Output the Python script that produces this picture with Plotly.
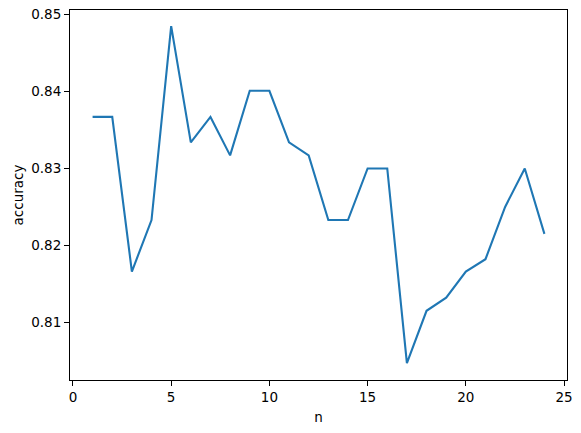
import plotly.graph_objects as go

n = list(range(1, 25))
accuracy = [0.8367, 0.8367, 0.8166, 0.8233, 0.8485, 0.8334, 0.8367, 0.8317,
            0.8401, 0.8401, 0.8334, 0.8317, 0.8233, 0.8233, 0.8300, 0.8300,
            0.8047, 0.8115, 0.8132, 0.8166, 0.8182, 0.8250, 0.8300, 0.8215]
x_ticks = [0, 5, 10, 15, 20, 25]
y_ticks = [0.81, 0.82, 0.83, 0.84, 0.85]

fig = go.Figure(go.Scatter(x=n, y=accuracy, mode="lines",
                           line=dict(color="#1f77b4", width=2.1)))

font = dict(family="DejaVu Sans", size=13.5, color="black")
axis_common = dict(showline=True, linecolor="black", linewidth=1.1, mirror=True,
                   ticks="outside", ticklen=5, tickwidth=1.1, tickcolor="black",
                   showgrid=False, zeroline=False, tickfont=font)
fig.update_xaxes(range=[-0.15, 25.15], tickvals=x_ticks, ticktext=[str(v) for v in x_ticks],
                 title=dict(text="n", font=font, standoff=8), **axis_common)
fig.update_yaxes(range=[0.8025, 0.8506], tickvals=y_ticks, ticktext=[f"{v:.2f}" for v in y_ticks],
                 title=dict(text="accuracy", font=font, standoff=4), **axis_common)
fig.update_layout(width=581, height=433, margin=dict(l=70, r=14, t=10, b=53, autoexpand=False),
                  paper_bgcolor="white", plot_bgcolor="white", showlegend=False,
                  font=font)
fig.write_html("out.html", config={"displayModeBar": False})

with open("out.html", "r", encoding="utf-8") as f:
    html = f.read()
html = html.replace("<head>", "<head><style>html,body{margin:0;padding:0;overflow:hidden;}</style>", 1)
with open("out.html", "w", encoding="utf-8") as f:
    f.write(html)
